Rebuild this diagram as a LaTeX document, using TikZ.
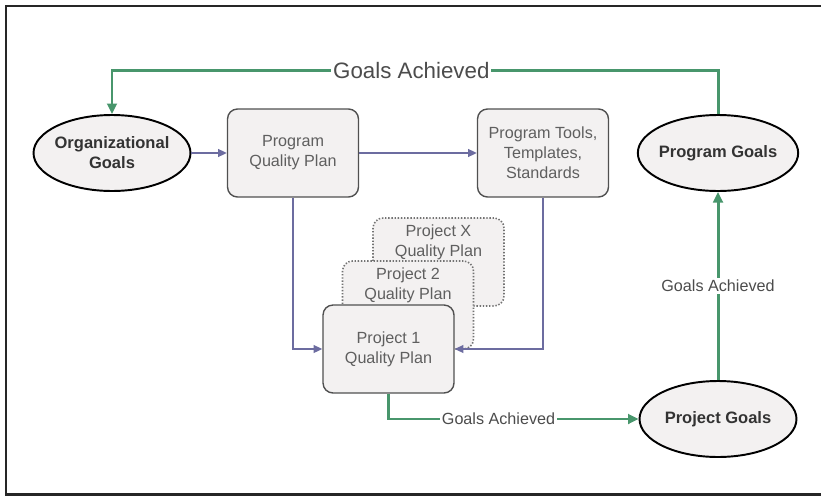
\documentclass[tikz,border=0pt]{standalone}
\usepackage{fontspec}
\setmainfont{Liberation Sans}
\usetikzlibrary{shapes.geometric,arrows.meta}
\definecolor{goalgreen}{RGB}{72,150,108}
\definecolor{flowblue}{RGB}{108,108,160}
\definecolor{planfill}{RGB}{243,241,241}
\definecolor{planline}{RGB}{80,80,80}
\definecolor{plantext}{RGB}{95,95,95}

\begin{document}
\begin{tikzpicture}[x = 0.02cm, y = -0.02cm,
          every node/.style = {font = \fontsize{9.2}{11.4}\selectfont},
          goal/.style       = {ellipse,
                               draw = black,
                               line width = 1.1pt,
                               fill = planfill,
                               text = black!80,
                               font = \fontsize{9.4}{11.4}\selectfont\bfseries,
                               align = center,
                               inner xsep = -0.05cm,
                               inner ysep = 0pt,
                               minimum width  = 3.14cm,
                               minimum height = 1.52cm},
          plan/.style       = {rectangle,
                               rounded corners = 0.2cm,
                               draw = planline,
                               line width = 0.8pt,
                               fill = planfill,
                               text = plantext,
                               align = center,
                               inner sep = 0pt,
                               minimum width  = 2.62cm,
                               minimum height = 1.76cm},
          shadowplan/.style = {plan, draw = planline!80, densely dotted, line width = 0.9pt},
          plantext/.style   = {text = plantext, align = center},
          flow/.style       = {draw = flowblue, line width = 0.85pt,
                               -{Triangle[length = 5pt, width = 4.5pt]}},
          achieved/.style   = {draw = goalgreen, line width = 1.7pt,
                               -{Triangle[length = 6pt, width = 5.5pt]}},
          tag/.style        = {fill = white, text = black!70, inner sep = 1pt}]

  \useasboundingbox (0,0) rectangle (821,497);
  \draw[line width = 1.7pt, draw = black!85] (6,6) rectangle (840,494.5);

  % goals
  \node[goal] (org)       at (112,153) {Organizational\\Goals};
  \node[goal] (proggoals) at (718,153) {Program Goals};
  \node[goal] (projgoals) at (718,419) {Project Goals};

  % program level plans
  \node[plan] (pqp)   at (293,153) {Program\\Quality Plan};
  \node[plan] (tools) at (543,153) {Program Tools,\\Templates,\\Standards};

  % stacked project plans
  \node[shadowplan] (px) at (438.5,262) {};
  \node[plantext]   (px text) at (438.5,242) {Project X\\Quality Plan};
  \node[shadowplan] (p2) at (408,305) {};
  \node[plantext]   (p2 text) at (408,285) {Project 2\\Quality Plan};
  \node[plan]       (p1) at (388.5,349) {Project 1\\Quality Plan};

  \draw[flow] (org) -- (pqp);
  \draw[flow] (pqp) -- (tools);
  \draw[flow] (pqp.south) |- (p1.west);
  \draw[flow] (tools.south) |- (p1.east);

  \draw[achieved] (p1.south) |- node[tag, pos = 0.72] {Goals Achieved} (projgoals.west);
  \draw[achieved] (projgoals) -- node[tag] {Goals Achieved} (proggoals);
  \draw[achieved] (proggoals.north) -- ++(0,-44)
        -| node[tag, pos = 0.253, font = \fontsize{12.7}{14}\selectfont] {Goals Achieved} (org.north);
\end{tikzpicture}
\end{document}
